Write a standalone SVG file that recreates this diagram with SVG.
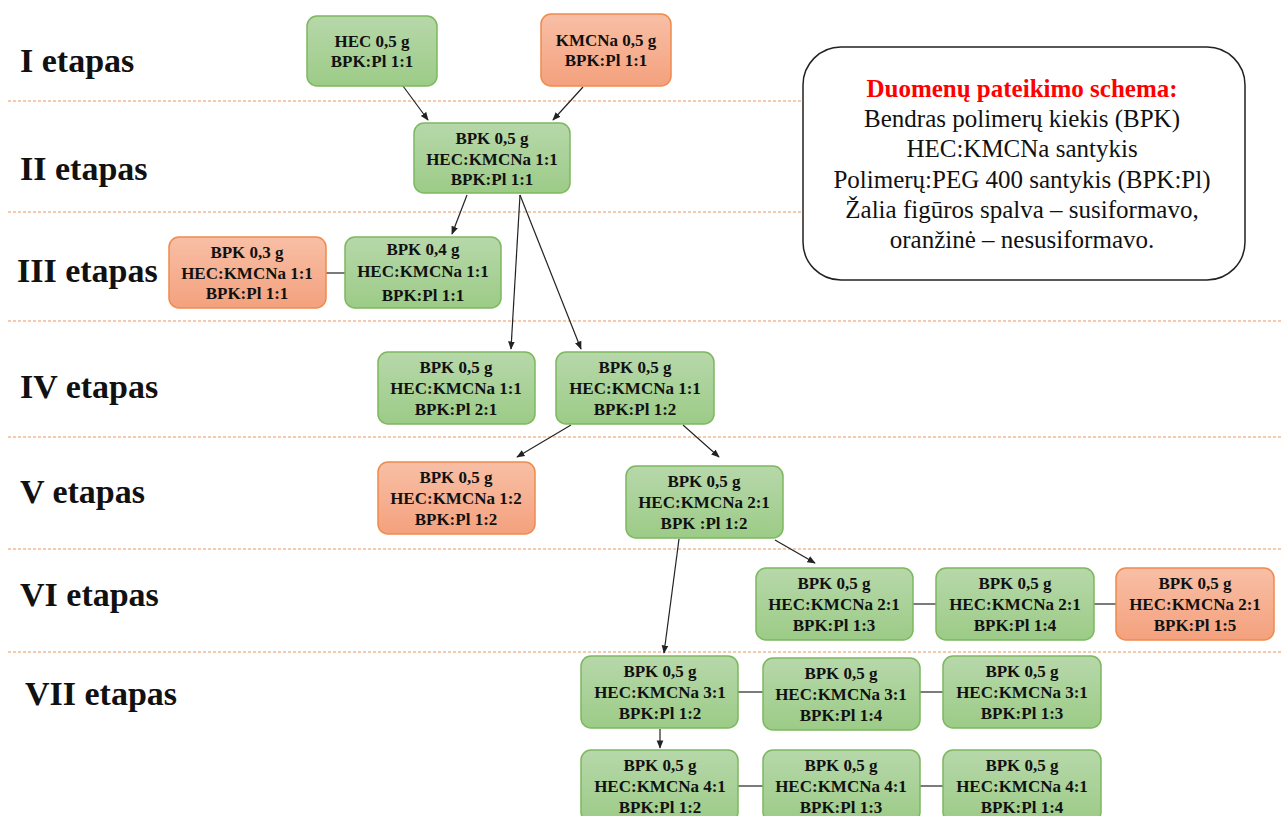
<svg xmlns="http://www.w3.org/2000/svg" width="1283" height="816" viewBox="0 0 1283 816">
<defs>
<linearGradient id="gG" x1="0" y1="0" x2="0" y2="1"><stop offset="0" stop-color="#b7d8aa"/><stop offset="1" stop-color="#9ccb87"/></linearGradient>
<linearGradient id="gO" x1="0" y1="0" x2="0" y2="1"><stop offset="0" stop-color="#f8bfa6"/><stop offset="1" stop-color="#f4a17d"/></linearGradient>
<marker id="ah" viewBox="0 0 10 10" refX="9" refY="5" markerWidth="7" markerHeight="7" orient="auto"><path d="M0,1 L10,5 L0,9 z" fill="#222"/></marker>
</defs>
<style>
.g{fill:url(#gG);stroke:#7cb85e;stroke-width:1.5}
.o{fill:url(#gO);stroke:#ef8b4c;stroke-width:1.5}
.t{font-family:"Liberation Serif",serif;font-weight:bold;font-size:17px;fill:#111;text-anchor:middle}
.lab{font-family:"Liberation Serif",serif;font-weight:bold;font-size:34px;fill:#111}
.sep{stroke:#f0965a;stroke-width:1.2;stroke-dasharray:3,2}
.c{stroke:#222;stroke-width:1.2;fill:none}
.a{stroke:#222;stroke-width:1.2;fill:none;marker-end:url(#ah)}
.leg{font-family:"Liberation Serif",serif;font-size:25px;fill:#111;text-anchor:middle}
.legt{font-family:"Liberation Serif",serif;font-size:25px;font-weight:bold;fill:#ff0000;text-anchor:middle}
</style>
<rect width="1283" height="816" fill="#fff"/>
<g id="separators">
<line class="sep" x1="8" y1="101" x2="803" y2="101"/>
<line class="sep" x1="8" y1="212" x2="803" y2="212"/>
<line class="sep" x1="8" y1="321" x2="1283" y2="321"/>
<line class="sep" x1="8" y1="437" x2="1283" y2="437"/>
<line class="sep" x1="8" y1="549" x2="1283" y2="549"/>
<line class="sep" x1="8" y1="652" x2="1283" y2="652"/>
</g>
<g id="labels">
<text class="lab" x="20" y="72">I etapas</text>
<text class="lab" x="20" y="180">II etapas</text>
<text class="lab" x="17" y="282">III etapas</text>
<text class="lab" x="20" y="398">IV etapas</text>
<text class="lab" x="20" y="503">V etapas</text>
<text class="lab" x="20" y="606">VI etapas</text>
<text class="lab" x="25" y="705">VII etapas</text>
</g>
<g id="legend">
<rect x="803" y="47" width="442" height="233" rx="38" fill="#fff" stroke="#222" stroke-width="1.5"/>
<text class="legt" x="1022" y="97">Duomenų pateikimo schema:</text>
<text class="leg" x="1022" y="127">Bendras polimerų kiekis (BPK)</text>
<text class="leg" x="1022" y="157">HEC:KMCNa santykis</text>
<text class="leg" x="1022" y="188">Polimerų:PEG 400 santykis (BPK:Pl)</text>
<text class="leg" x="1022" y="218">Žalia figūros spalva – susiformavo,</text>
<text class="leg" x="1022" y="248">oranžinė – nesusiformavo.</text>
</g>
<g id="connectors">
<line class="a" x1="403" y1="86" x2="428" y2="120"/>
<line class="a" x1="583" y1="87" x2="553" y2="120"/>
<line class="a" x1="467" y1="195" x2="452" y2="234"/>
<line class="a" x1="520" y1="195" x2="511" y2="349"/>
<line class="a" x1="520" y1="195" x2="581" y2="349"/>
<line class="a" x1="571" y1="425" x2="517" y2="457"/>
<line class="a" x1="683" y1="425" x2="719" y2="457"/>
<line class="a" x1="679" y1="539" x2="664" y2="653"/>
<line class="a" x1="775" y1="540" x2="815" y2="563"/>
<line class="a" x1="660" y1="729" x2="660" y2="748"/>
<line class="c" x1="326" y1="273" x2="345" y2="273"/>
<line class="c" x1="913" y1="604" x2="936" y2="604"/>
<line class="c" x1="1094" y1="604" x2="1116" y2="604"/>
<line class="c" x1="738" y1="692" x2="763" y2="692"/>
<line class="c" x1="920" y1="692" x2="943" y2="692"/>
<line class="c" x1="738" y1="786" x2="763" y2="786"/>
<line class="c" x1="920" y1="786" x2="943" y2="786"/>
</g>
<g id="n1"><rect class="g" x="307" y="16" width="130" height="70" rx="10"/><text class="t" x="372" y="47">HEC 0,5 g</text><text class="t" x="372" y="67">BPK:Pl 1:1</text></g>
<g id="n2"><rect class="o" x="541" y="14" width="130" height="72" rx="10"/><text class="t" x="606" y="46">KMCNa 0,5 g</text><text class="t" x="606" y="66">BPK:Pl 1:1</text></g>
<g id="n3"><rect class="g" x="414" y="123" width="156" height="70" rx="10"/><text class="t" x="492" y="144">BPK 0,5 g</text><text class="t" x="492" y="165">HEC:KMCNa 1:1</text><text class="t" x="492" y="185">BPK:Pl 1:1</text></g>
<g id="n4"><rect class="o" x="169" y="237" width="157" height="71" rx="10"/><text class="t" x="247" y="258">BPK 0,3 g</text><text class="t" x="247" y="279">HEC:KMCNa 1:1</text><text class="t" x="247" y="299">BPK:Pl 1:1</text></g>
<g id="n5"><rect class="g" x="345" y="237" width="156" height="71" rx="10"/><text class="t" x="423" y="255">BPK 0,4 g</text><text class="t" x="423" y="277">HEC:KMCNa 1:1</text><text class="t" x="423" y="301">BPK:Pl 1:1</text></g>
<g id="n6"><rect class="g" x="378" y="352" width="157" height="72" rx="10"/><text class="t" x="456" y="373">BPK 0,5 g</text><text class="t" x="456" y="394">HEC:KMCNa 1:1</text><text class="t" x="456" y="415">BPK:Pl 2:1</text></g>
<g id="n7"><rect class="g" x="556" y="352" width="158" height="72" rx="10"/><text class="t" x="635" y="373">BPK 0,5 g</text><text class="t" x="635" y="394">HEC:KMCNa 1:1</text><text class="t" x="635" y="415">BPK:Pl 1:2</text></g>
<g id="n8"><rect class="o" x="378" y="462" width="157" height="72" rx="10"/><text class="t" x="456" y="483">BPK 0,5 g</text><text class="t" x="456" y="504">HEC:KMCNa 1:2</text><text class="t" x="456" y="525">BPK:Pl 1:2</text></g>
<g id="n9"><rect class="g" x="626" y="466" width="157" height="72" rx="10"/><text class="t" x="704" y="487">BPK 0,5 g</text><text class="t" x="704" y="508">HEC:KMCNa 2:1</text><text class="t" x="704" y="529">BPK :Pl 1:2</text></g>
<g id="n10"><rect class="g" x="756" y="568" width="157" height="72" rx="10"/><text class="t" x="834" y="589">BPK 0,5 g</text><text class="t" x="834" y="610">HEC:KMCNa 2:1</text><text class="t" x="834" y="631">BPK:Pl 1:3</text></g>
<g id="n11"><rect class="g" x="936" y="568" width="158" height="72" rx="10"/><text class="t" x="1015" y="589">BPK 0,5 g</text><text class="t" x="1015" y="610">HEC:KMCNa 2:1</text><text class="t" x="1015" y="631">BPK:Pl 1:4</text></g>
<g id="n12"><rect class="o" x="1116" y="568" width="158" height="72" rx="10"/><text class="t" x="1195" y="589">BPK 0,5 g</text><text class="t" x="1195" y="610">HEC:KMCNa 2:1</text><text class="t" x="1195" y="631">BPK:Pl 1:5</text></g>
<g id="n13"><rect class="g" x="581" y="656" width="157" height="72" rx="10"/><text class="t" x="660" y="677">BPK 0,5 g</text><text class="t" x="660" y="698">HEC:KMCNa 3:1</text><text class="t" x="660" y="719">BPK:Pl 1:2</text></g>
<g id="n14"><rect class="g" x="763" y="658" width="157" height="72" rx="10"/><text class="t" x="841" y="679">BPK 0,5 g</text><text class="t" x="841" y="700">HEC:KMCNa 3:1</text><text class="t" x="841" y="721">BPK:Pl 1:4</text></g>
<g id="n15"><rect class="g" x="943" y="656" width="158" height="72" rx="10"/><text class="t" x="1022" y="677">BPK 0,5 g</text><text class="t" x="1022" y="698">HEC:KMCNa 3:1</text><text class="t" x="1022" y="719">BPK:Pl 1:3</text></g>
<g id="n16"><rect class="g" x="581" y="750" width="157" height="72" rx="10"/><text class="t" x="660" y="771">BPK 0,5 g</text><text class="t" x="660" y="792">HEC:KMCNa 4:1</text><text class="t" x="660" y="813">BPK:Pl 1:2</text></g>
<g id="n17"><rect class="g" x="763" y="750" width="157" height="72" rx="10"/><text class="t" x="841" y="771">BPK 0,5 g</text><text class="t" x="841" y="792">HEC:KMCNa 4:1</text><text class="t" x="841" y="813">BPK:Pl 1:3</text></g>
<g id="n18"><rect class="g" x="943" y="750" width="158" height="72" rx="10"/><text class="t" x="1022" y="771">BPK 0,5 g</text><text class="t" x="1022" y="792">HEC:KMCNa 4:1</text><text class="t" x="1022" y="813">BPK:Pl 1:4</text></g>
</svg>
